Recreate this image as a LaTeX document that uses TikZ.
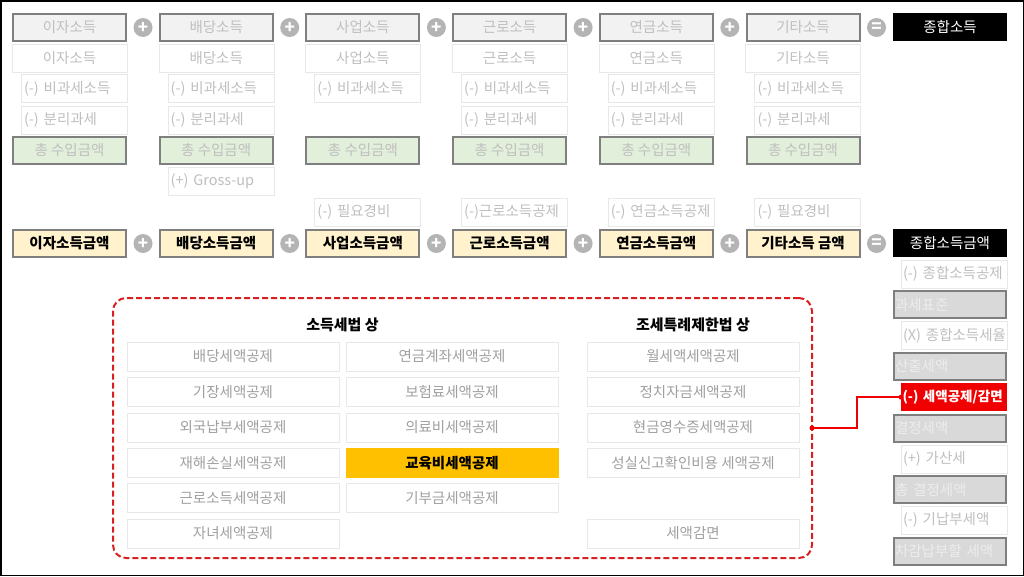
\documentclass[tikz,border=0pt]{standalone}
\usepackage{fontspec}
\setmainfont{Noto Sans CJK KR}
\usetikzlibrary{positioning, calc, arrows.meta}
\definecolor{frameedge}{HTML}{7F7F7F}
\definecolor{faint}{HTML}{BFBFBF}
\definecolor{listtext}{HTML}{A0A0A0}
\definecolor{thinedge}{HTML}{E8E8E8}
\definecolor{srcfill}{HTML}{F2F2F2}
\definecolor{sumfill}{HTML}{E2EFDA}
\definecolor{amtfill}{HTML}{FFF2CC}
\definecolor{taxfill}{HTML}{D9D9D9}
\definecolor{taxtext}{HTML}{EDEDED}
\definecolor{opfill}{HTML}{B4B4B4}
\definecolor{hilite}{HTML}{FFC000}
\definecolor{lawred}{HTML}{D92020}
\definecolor{credred}{HTML}{F00000}

\begin{document}
\begin{tikzpicture}
  [
    x=1pt, y=-1pt,
    every node/.style={font=\fontsize{14.5}{16}\selectfont, inner sep=3pt, outer sep=0pt},
    srcbox/.style={draw=frameedge, line width=2pt, fill=srcfill, text=faint,
      minimum width=113pt, minimum height=27pt},
    sumbox/.style={srcbox, fill=sumfill},
    amtbox/.style={srcbox, fill=amtfill, text=black, font=\fontsize{14.5}{16}\selectfont\bfseries},
    totbox/.style={fill=black, text=white, minimum width=114pt, minimum height=28pt},
    basebox/.style={draw=thinedge, fill=white, text=faint, minimum width=115pt, minimum height=28pt},
    subbox/.style={draw=thinedge, fill=white, text=faint, text width=100pt, align=left, minimum height=28pt},
    rsubbox/.style={subbox, text width=102pt, inner xsep=2pt},
    taxbox/.style={draw=frameedge, line width=2pt, fill=taxfill, text=taxtext,
      text width=110pt, inner xsep=1pt, align=left, minimum height=27pt},
    credbox/.style={fill=credred, text=white, text width=103pt, inner xsep=1.5pt, align=left,
      minimum height=28pt, font=\fontsize{13.5}{15}\selectfont\bfseries},
    listbox/.style={draw=thinedge, fill=white, text=listtext, minimum width=212pt, minimum height=29pt},
    opsign/.style={circle, fill=opfill, text=white, minimum size=19pt, inner sep=0pt,
      font=\fontsize{17}{17}\selectfont\bfseries},
    heading/.style={font=\fontsize{15}{17}\selectfont\bfseries},
    lawframe/.style={draw=lawred, line width=2pt, dash pattern=on 6pt off 3pt,
      rounded corners=13pt, minimum width=699pt, minimum height=260pt},
    link/.style={draw=credred, line width=1.5pt}
  ]
  \useasboundingbox (0,0) rectangle (1024,576);
  \draw[line width=1.5pt] (0.75,0.75) rectangle (1023.25,575.25);

  % income kinds
  \foreach \i/\nm/\txt in {0/int/이자소득, 1/div/배당소득, 2/biz/사업소득, 3/wage/근로소득, 4/pens/연금소득, 5/etc/기타소득} {
    \node[srcbox] (src-\nm) at ({69.5+146.7*\i},27.5) {\txt};
    \node[basebox] (base-\nm) at ({69.5+146.7*\i},58) {\txt};
    \node[subbox] (free-\nm) at ({74+146.7*\i},88.5) {(-)~비과세소득};
    \node[sumbox] (sum-\nm) at ({69.5+146.7*\i},150.5) {총 수입금액};
  }
  % (-) 분리과세, none for business income
  \foreach \i/\nm in {0/int, 1/div, 3/wage, 4/pens, 5/etc} {
    \node[subbox] (sep-\nm) at ({74+146.7*\i},120) {(-)~분리과세};
  }
  \node[subbox] (gross) at ({74+146.7},181) {(+)~Gross-up};
  % expenses and deductions
  \foreach \i/\nm/\txt in {2/biz/(-)~필요경비, 3/wage/(-)근로소득공제, 4/pens/(-)~연금소득공제, 5/etc/(-)~필요경비} {
    \node[subbox] (ded-\nm) at ({74+146.7*\i},212) {\txt};
  }
  % income amounts
  \foreach \i/\nm/\txt in {0/int/이자소득금액, 1/div/배당소득금액, 2/biz/사업소득금액, 3/wage/근로소득금액, 4/pens/연금소득금액, 5/etc/기타소득 금액} {
    \node[amtbox] (amt-\nm) at ({69.5+146.7*\i},243.5) {\txt};
  }
  % plus and equals signs
  \foreach \i in {0,...,4} {
    \node[opsign] (plus-top-\i) at ({143+146.7*\i},27.5) {+};
    \node[opsign] (plus-amt-\i) at ({143+146.7*\i},243.5) {+};
  }
  \node[opsign] (eq-top) at (876.5,27.5) {=};
  \node[opsign] (eq-amt) at (876.5,243.5) {=};
  \node[totbox] (total) at (950,27) {종합소득};
  \node[totbox] (total-amt) at (950,243) {종합소득금액};

  % tax computation
  \foreach \k/\x/\nm/\kind/\txt in {0/954/ded/rsubbox/(-)~종합소득공제, 1/950/base/taxbox/과세표준,
      2/954/rate/rsubbox/(X)~종합소득세율, 3/950/calc/taxbox/산출세액, 5/950/fixed/taxbox/결정세액,
      6/954/add/rsubbox/(+)~가산세, 7/950/final/taxbox/총~결정세액, 8/954/prepaid/rsubbox/(-)~기납부세액,
      9/950/due/taxbox/차감납부할~세액} {
    \node[\kind] (tax-\nm) at (\x,{274+30.8*\k}) {\txt};
  }
  \node[credbox] (credit) at (954,397.2) {(-)~세액공제/감면};

  % tax credits
  \node[lawframe] (law) at (462.5,428) {};
  \node[heading] (law-it) at (342.5,325) {소득세법 상};
  \node[heading] (law-sp) at (693,325) {조세특례제한법 상};
  \foreach \k/\txt in {0/배당세액공제, 1/기장세액공제, 2/외국납부세액공제, 3/재해손실세액공제, 4/근로소득세액공제, 5/자녀세액공제} {
    \node[listbox] (it-a\k) at (233,{356.5+35.4*\k}) {\txt};
  }
  \foreach \k/\txt in {0/연금계좌세액공제, 1/보험료세액공제, 2/의료비세액공제, 4/기부금세액공제} {
    \node[listbox] (it-b\k) at (452,{356.5+35.4*\k}) {\txt};
  }
  \node[listbox, draw=hilite, fill=hilite, text=black, font=\fontsize{14.5}{16}\selectfont\bfseries]
    (it-b3) at (452,{356.5+35.4*3}) {교육비세액공제};
  \foreach \k/\txt in {0/월세액세액공제, 1/정치자금세액공제, 2/현금영수증세액공제, 3/성실신고확인비용 세액공제, 5/세액감면} {
    \node[listbox] (sp-\k) at (693,{356.5+35.4*\k}) {\txt};
  }

  % link
  \draw[link] (law.east) -- ++(45,0) |- (credit.west);
  \fill[credred] (law.east) circle (2.5pt) (credit.west) circle (2.5pt);
\end{tikzpicture}
\end{document}
